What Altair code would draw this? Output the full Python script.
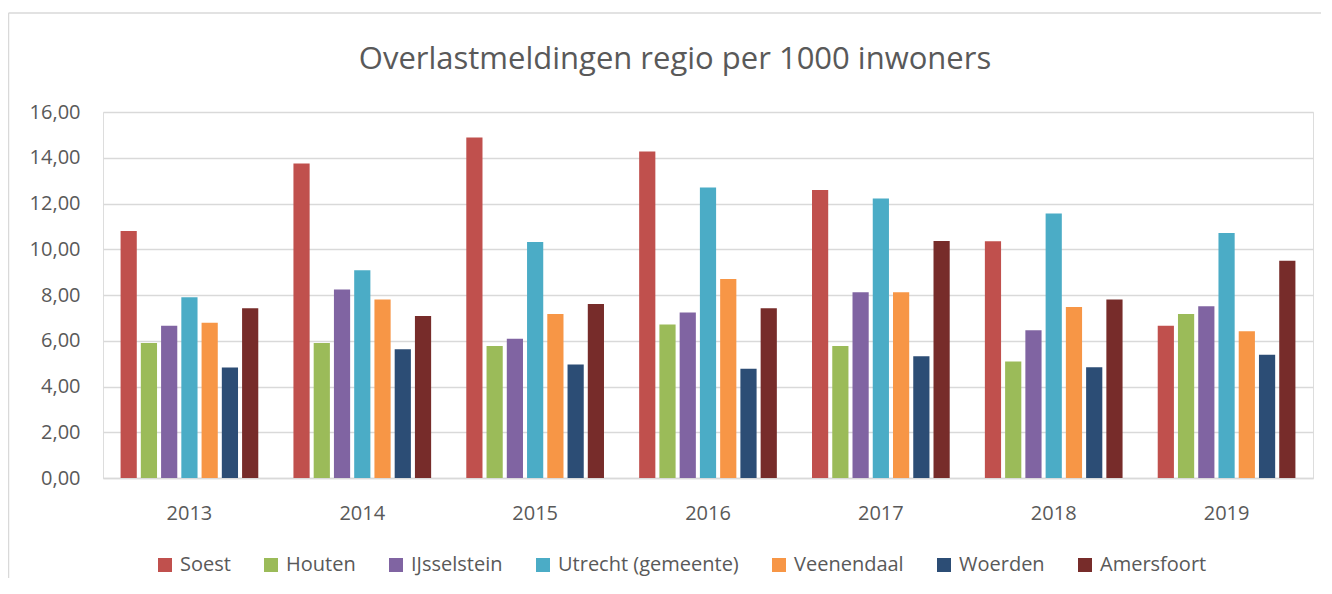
import altair as alt
import pandas as pd

years = ["2013", "2014", "2015", "2016", "2017", "2018", "2019"]
series = ["Soest", "Houten", "IJsselstein", "Utrecht (gemeente)", "Veenendaal", "Woerden", "Amersfoort"]
colors = ["#C0504D", "#9BBB59", "#8064A2", "#4BACC6", "#F79646", "#2C4D75", "#772C2A"]

soest = [10.80, 13.75, 14.88, 14.27, 12.59, 10.35, 6.66]
houten = [5.90, 5.90, 5.77, 6.71, 5.77, 5.09, 7.17]
ijsselstein = [6.66, 8.24, 6.09, 7.24, 8.12, 6.46, 7.51]
utrecht = [7.90, 9.08, 10.32, 12.70, 12.22, 11.56, 10.71]
veenendaal = [6.79, 7.80, 7.17, 8.70, 8.12, 7.48, 6.41]
woerden = [4.83, 5.63, 4.96, 4.78, 5.32, 4.84, 5.39]
amersfoort = [7.42, 7.08, 7.61, 7.42, 10.36, 7.80, 9.50]

values = [soest, houten, ijsselstein, utrecht, veenendaal, woerden, amersfoort]

rows = []
for name, vals in zip(series, values):
    for y, v in zip(years, vals):
        rows.append({"Jaar": y, "Gemeente": name, "Waarde": v})
df = pd.DataFrame(rows)

FONT = "Open Sans"
TXT = "#595959"
GRID = "#D9D9D9"

bars = alt.Chart(df).mark_bar().encode(
    x=alt.X("Jaar:N", sort=years, title=None,
            scale=alt.Scale(paddingInner=0.18, paddingOuter=0.09),
            axis=alt.Axis(orient="bottom", labelAngle=0, ticks=False, tickSize=0,
                          labelPadding=25, grid=False,
                          domainColor=GRID, domainWidth=1.5,
                          labelFont=FONT, labelFontSize=20, labelColor=TXT)),
    xOffset=alt.XOffset("Gemeente:N", sort=series,
                        scale=alt.Scale(paddingInner=0.2, paddingOuter=0.1)),
    y=alt.Y("Waarde:Q", title=None,
            scale=alt.Scale(domain=[0, 16], nice=False),
            axis=alt.Axis(orient="left", values=[0, 2, 4, 6, 8, 10, 12, 14, 16],
                          labelExpr="replace(format(datum.value, '.2f'), '.', ',')",
                          labelOverlap=False,
                          ticks=False, tickSize=0, domain=False, labelPadding=23,
                          gridColor=GRID, gridWidth=1.5,
                          labelFont=FONT, labelFontSize=20, labelColor=TXT)),
    color=alt.Color("Gemeente:N", sort=series,
                    scale=alt.Scale(domain=series, range=colors),
                    legend=alt.Legend(title=None, orient="none", direction="horizontal",
                                      columns=7, legendX=52, legendY=443, padding=0,
                                      symbolType="square", symbolSize=196,
                                      symbolStrokeWidth=0, labelOffset=5,
                                      columnPadding=30, labelLimit=400,
                                      labelFont=FONT, labelFontSize=20, labelColor=TXT)),
)

frame_data = alt.Data(values=[{"a": 1}])
frame_top = alt.Chart(frame_data).mark_rule(
    color=GRID, strokeWidth=1.5, clip=False
).encode(x=alt.value(-94.5), x2=alt.value(1400), y=alt.value(-99))
frame_left = alt.Chart(frame_data).mark_rule(
    color=GRID, strokeWidth=1.5, clip=False
).encode(x=alt.value(-94.5), y=alt.value(-99), y2=alt.value(700))

chart = alt.layer(frame_top, frame_left, bars).properties(
    width=1210,
    height=366,
    autosize=alt.AutoSizeParams(type="none"),
    padding={"left": 95, "top": 104, "right": 8, "bottom": 100},
    title=alt.TitleParams("Overlastmeldingen regio per 1000 inwoners",
                          font=FONT, fontSize=31, fontWeight="normal", color=TXT,
                          anchor="middle", dx=-33, offset=-88, baseline="alphabetic"),
).configure_view(
    stroke="transparent", strokeWidth=0
).configure_axisBand(grid=False).configure_axisX(grid=False).configure(background="white")

chart.save("out.html", embed_options={"renderer": "svg", "actions": False})
